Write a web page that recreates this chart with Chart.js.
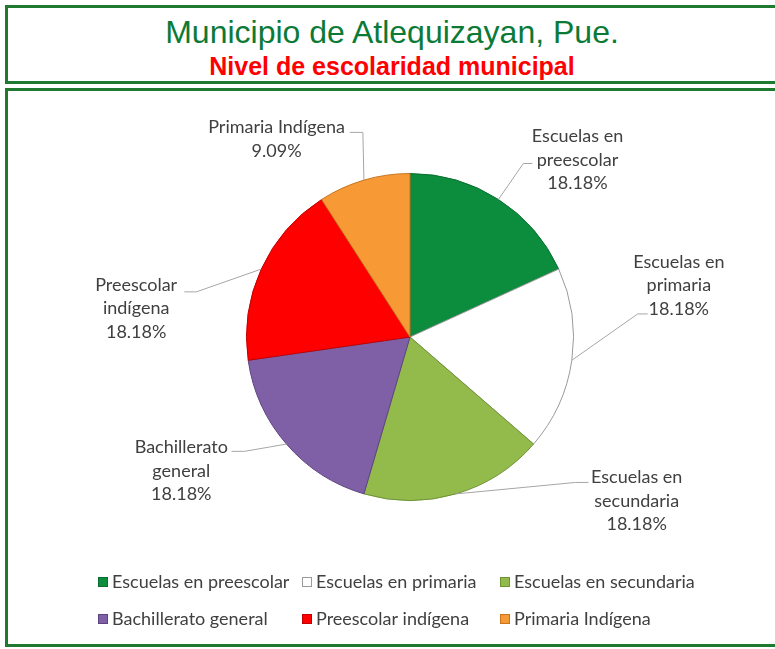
<!DOCTYPE html>
<html>
<head>
<meta charset="utf-8">
<script src="https://cdn.jsdelivr.net/npm/chart.js@4.4.1/dist/chart.umd.min.js"></script>
<style>
  html, body { margin:0; padding:0; background:#fff; width:775px; height:649px; overflow:hidden; }
  .box { position:absolute; left:5px; width:800px; border:3px solid #1f7a30; box-sizing:content-box; }
  #tbox { top:5px; height:73px; }
  #cbox { top:88px; height:553px; }
  .ttl { position:absolute; left:0; width:784px; text-align:center; font-family:"Liberation Sans", Arial, sans-serif; white-space:nowrap; }
  #t1 { top:12px; font-size:32px; color:#0b7a37; line-height:40px; }
  #t2 { top:51px; font-size:25px; font-weight:bold; color:#ff0000; line-height:30px; }
  canvas { position:absolute; left:0; top:0; }
</style>
</head>
<body>
<div class="box" id="tbox"></div>
<div class="box" id="cbox"></div>
<div class="ttl" id="t1">Municipio de Atlequizayan, Pue.</div>
<div class="ttl" id="t2">Nivel de escolaridad municipal</div>
<canvas id="c" width="775" height="649"></canvas>
<script>
const categories = ['Escuelas en preescolar', 'Escuelas en primaria', 'Escuelas en secundaria', 'Bachillerato general', 'Preescolar indígena', 'Primaria Indígena'];
const values = [2, 2, 2, 2, 2, 1];
const labelLines = [['Escuelas en', 'preescolar'], ['Escuelas en', 'primaria'], ['Escuelas en', 'secundaria'], ['Bachillerato', 'general'], ['Preescolar', 'indígena'], ['Primaria Indígena']];
const colors = ['#0b8d3d', '#ffffff', '#92bb4b', '#7f5fa6', '#ff0000', '#f79a35'];
const borders = ['#0a6e30', '#9a9a9a', '#6f9237', '#5e447f', '#c00000', '#c8741f'];

// label layout: text centre / first line offset, leader elbow and end (px relative to pie centre at r=163)
const labelLayout = [
  { tx: 167, ty: -200, ex: 113, ey: -173, fx: 122, fy: -173 },
  { tx: 268, ty: -75, ex: 227, ey: -23, fx: 237, fy: -23 },
  { tx: 226, ty: 140, ex: 165, ey: 145, fx: 178, fy: 145 },
  { tx: -228, ty: 110, ex: -165, ey: 114, fx: -178, fy: 114 },
  { tx: -273, ty: -52, ex: -213, ey: -45, fx: -225, fy: -45 },
  { tx: -133, ty: -209, ex: -47, ey: -204, fx: -60, fy: -204 }
];
const legendGrid = { x0: 98, colW: [204, 198], y0: 582, rowH: 37, perRow: 3 };
const FONT = '18px Lato, "Open Sans", sans-serif';

const labelPlugin = {
  id: 'outLabels',
  afterDatasetsDraw(chart) {
    const ctx = chart.ctx;
    const meta = chart.getDatasetMeta(0);
    const total = values.reduce((a, b) => a + b, 0);
    ctx.save();
    meta.data.forEach((arc, i) => {
      const p = arc.getProps(['x', 'y', 'startAngle', 'endAngle', 'outerRadius'], true);
      const s = p.outerRadius / 163;
      const mid = (p.startAngle + p.endAngle) / 2;
      const sx = p.x + Math.cos(mid) * p.outerRadius;
      const sy = p.y + Math.sin(mid) * p.outerRadius;
      const L = labelLayout[i];
      ctx.strokeStyle = '#a6a6a6';
      ctx.lineWidth = 1;
      ctx.beginPath();
      ctx.moveTo(sx, sy);
      ctx.lineTo(p.x + L.ex * s, p.y + L.ey * s);
      ctx.lineTo(p.x + L.fx * s, p.y + L.fy * s);
      ctx.stroke();
      const lines = labelLines[i].concat([(values[i] / total * 100).toFixed(2) + '%']);
      ctx.fillStyle = '#404040';
      ctx.font = FONT;
      ctx.textAlign = 'center';
      ctx.textBaseline = 'middle';
      lines.forEach((t, k) => ctx.fillText(t, p.x + L.tx * s, p.y + L.ty * s + k * 23.5));
    });
    // legend
    ctx.textAlign = 'left';
    ctx.textBaseline = 'middle';
    categories.forEach((c, i) => {
      const col = i % legendGrid.perRow, row = Math.floor(i / legendGrid.perRow);
      let x = legendGrid.x0;
      for (let k = 0; k < col; k++) x += legendGrid.colW[k];
      const y = legendGrid.y0 + row * legendGrid.rowH;
      ctx.fillStyle = colors[i];
      ctx.fillRect(x, y - 5, 10, 10);
      ctx.strokeStyle = borders[i];
      ctx.strokeRect(x + 0.5, y - 4.5, 9, 9);
      ctx.fillStyle = '#404040';
      ctx.font = FONT;
      ctx.fillText(c, x + 14, y);
    });
    ctx.restore();
  }
};

new Chart(document.getElementById('c'), {
  type: 'pie',
  data: {
    labels: categories,
    datasets: [{ data: values, backgroundColor: colors, borderColor: borders, borderWidth: 1 }]
  },
  options: {
    responsive: false,
    animation: false,
    layout: { padding: { left: 246, right: 201, top: 173, bottom: 148 } },
    plugins: { legend: { display: false }, tooltip: { enabled: false } }
  },
  plugins: [labelPlugin]
});
</script>
</body>
</html>
